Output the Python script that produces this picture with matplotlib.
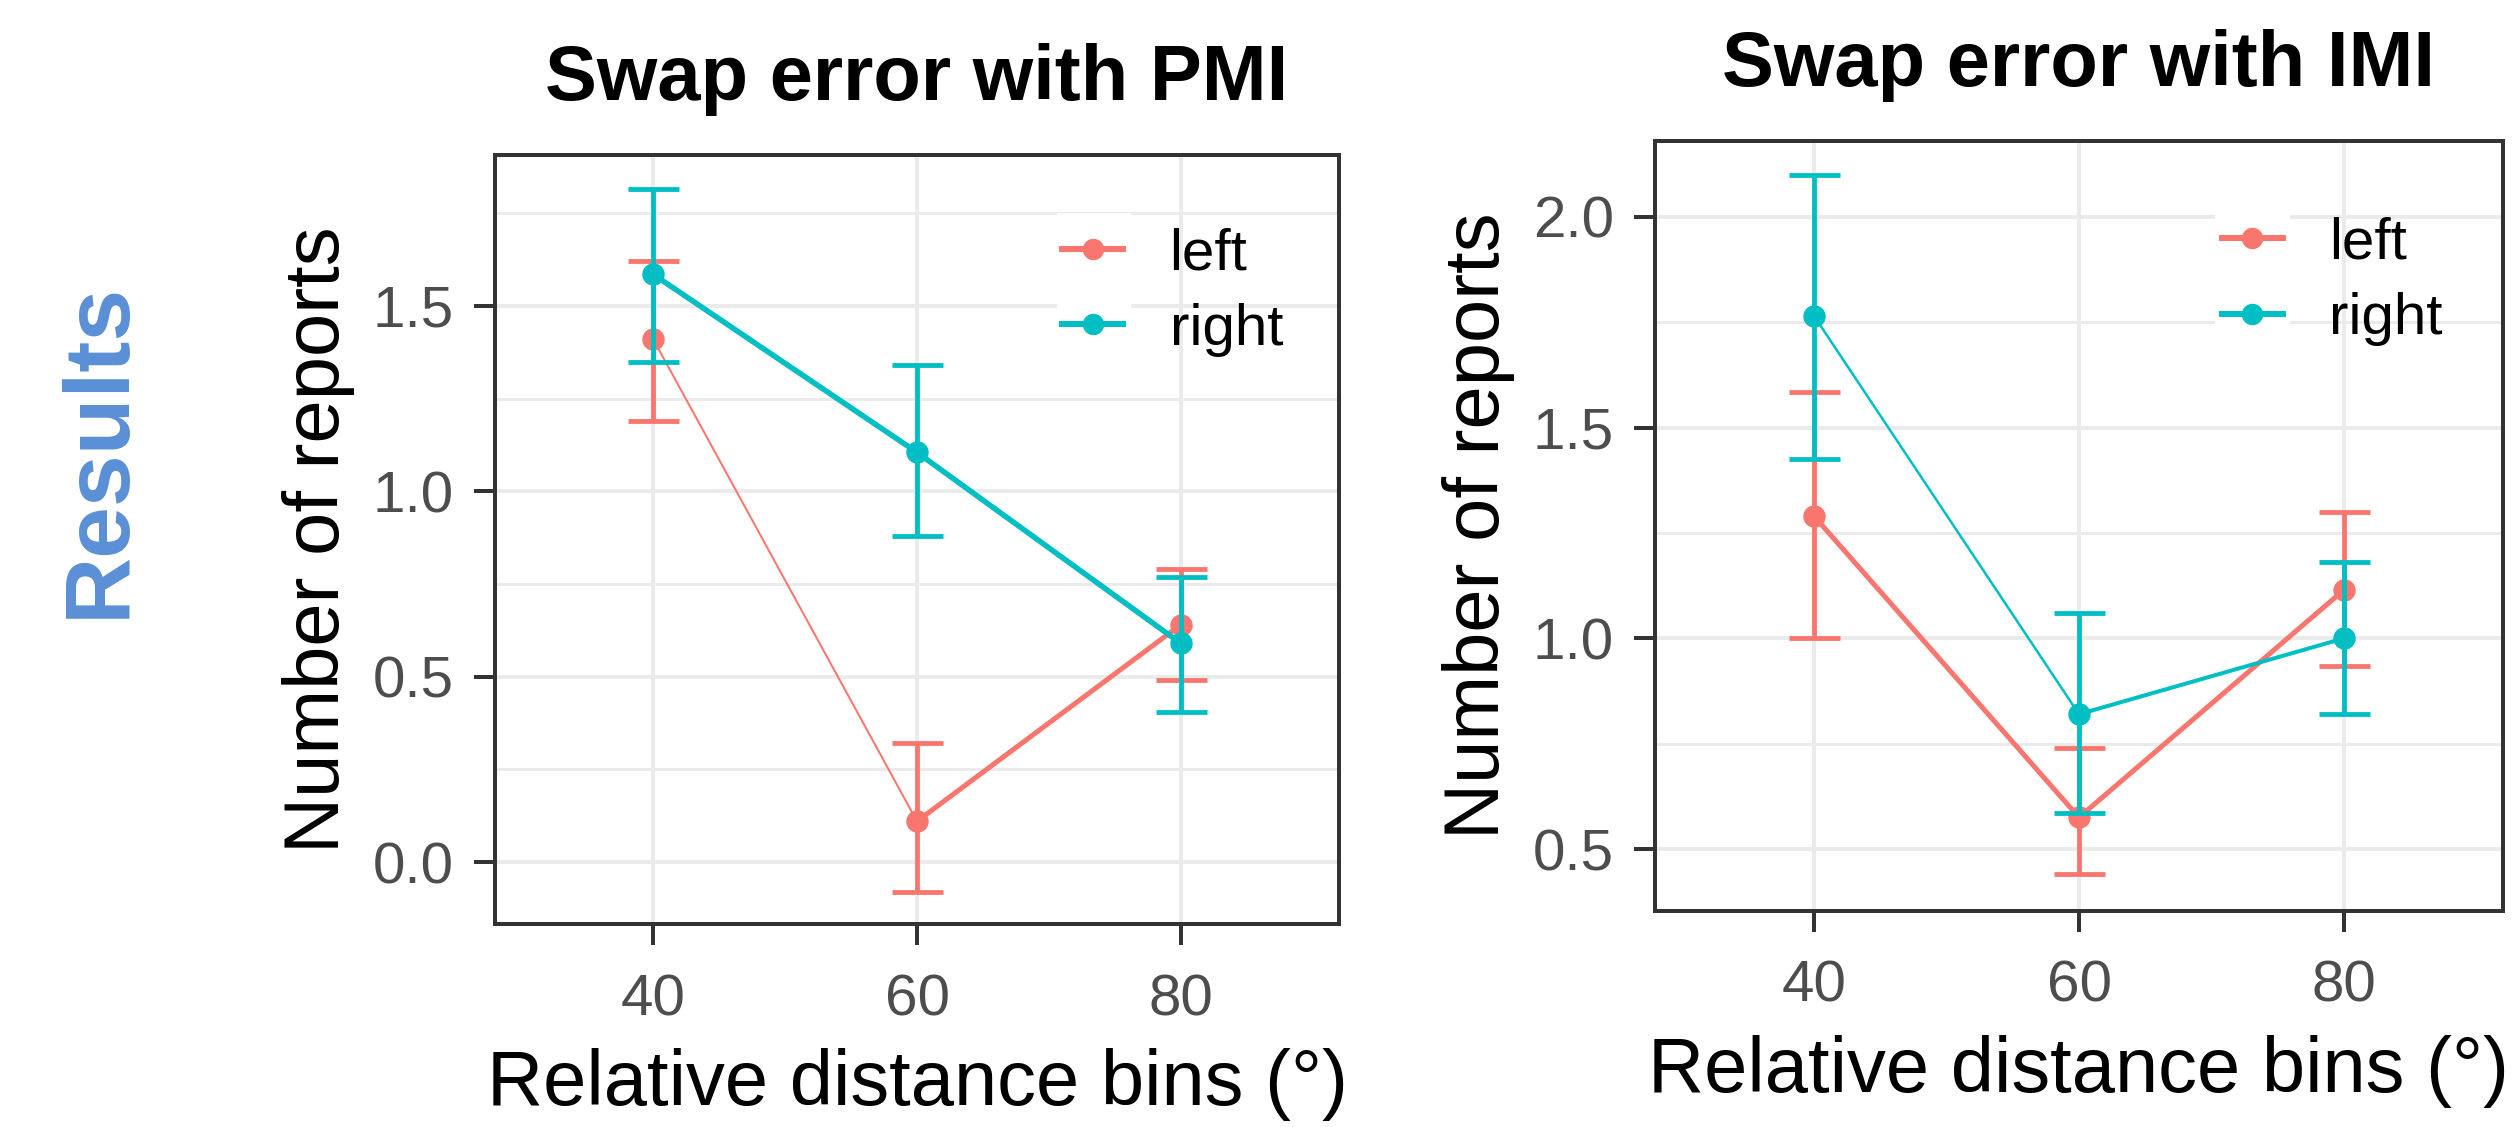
import matplotlib
matplotlib.use("Agg")
import matplotlib.pyplot as plt
from matplotlib.lines import Line2D
from matplotlib.patches import Rectangle

plt.rcParams['font.family'] = ['Liberation Sans', 'DejaVu Sans']

# ---------------- data ----------------
bins = ["40", "60", "80"]
groups = ["left", "right"]

pmi_left_mean = [1.41, 0.11, 0.64]
pmi_left_low = [1.19, -0.08, 0.49]
pmi_left_high = [1.62, 0.32, 0.79]
pmi_right_mean = [1.585, 1.105, 0.59]
pmi_right_low = [1.35, 0.88, 0.405]
pmi_right_high = [1.815, 1.34, 0.77]

imi_left_mean = [1.29, 0.575, 1.115]
imi_left_low = [1.00, 0.44, 0.935]
imi_left_high = [1.585, 0.74, 1.30]
imi_right_mean = [1.765, 0.82, 1.00]
imi_right_low = [1.425, 0.585, 0.82]
imi_right_high = [2.10, 1.06, 1.18]

titles = ["Swap error with PMI", "Swap error with IMI"]
xlabel = "Relative distance bins (°)"
ylabel = "Number of reports"
side_label = "Results"

# ---------------- style ----------------
W, H, DPI = 2517, 1127, 100
PX = 72.0 / DPI


def px(v):
    return v * PX


colors = {"left": "#F8766D", "right": "#00BFC4"}
GRID = "#EBEBEB"
DARK = "#333333"
TICKLAB = "#4D4D4D"

fig = plt.figure(figsize=(W / DPI, H / DPI), dpi=DPI)
fig.patch.set_facecolor("white")

ax1 = fig.add_axes([495 / W, 1 - 924 / H, 844 / W, 769 / H])
ax2 = fig.add_axes([1655 / W, 1 - 911 / H, 848 / W, 770 / H])

panels = [
    dict(ax=ax1, title=titles[0],
         series={"left": (pmi_left_mean, pmi_left_low, pmi_left_high),
                 "right": (pmi_right_mean, pmi_right_low, pmi_right_high)},
         seg_w={"left": [2.0, 5.0], "right": [5.5, 5.5]},
         ylim=(-0.167, 1.907), major=[0.0, 0.5, 1.0, 1.5],
         minor=[0.25, 0.75, 1.25, 1.75],
         leg_anchor=(0.672, 0.906), keybox=(0.666, 0.727, 0.087, 0.198)),
    dict(ax=ax2, title=titles[1],
         series={"left": (imi_left_mean, imi_left_low, imi_left_high),
                 "right": (imi_right_mean, imi_right_low, imi_right_high)},
         seg_w={"left": [5.0, 5.0], "right": [2.5, 4.0]},
         ylim=(0.353, 2.18), major=[0.5, 1.0, 1.5, 2.0],
         minor=[0.75, 1.25, 1.75],
         leg_anchor=(0.6686, 0.902), keybox=(0.6604, 0.731, 0.0884, 0.194)),
]

xpos = list(range(len(bins)))

for p in panels:
    ax = p["ax"]
    ax.set_axisbelow(True)
    # lines
    for g in groups:
        mean, low, high = p["series"][g]
        c = colors[g]
        for i in range(len(xpos) - 1):
            ax.plot(xpos[i:i + 2], mean[i:i + 2], color=c,
                    lw=px(p["seg_w"][g][i]), solid_capstyle="round", zorder=2)
    for g in groups:
        mean, low, high = p["series"][g]
        c = colors[g]
        ax.plot(xpos, mean, "o", color=c, ms=px(21), mec=c, zorder=3)
    for g in groups:
        mean, low, high = p["series"][g]
        c = colors[g]
        yerr = [[m - l for m, l in zip(mean, low)], [h - m for m, h in zip(mean, high)]]
        ax.errorbar(xpos, mean, yerr=yerr, fmt="none", ecolor=c,
                    elinewidth=px(4.8), capsize=px(25.5), capthick=px(4.8), zorder=4)

    ax.set_xlim(-0.6, len(bins) - 0.4)
    ax.set_ylim(*p["ylim"])
    ax.set_xticks(xpos)
    ax.set_xticklabels(bins)
    ax.set_yticks(p["major"])
    ax.set_yticklabels([f"{v:.1f}" for v in p["major"]])
    ax.set_yticks(p["minor"], minor=True)

    ax.grid(which="major", color=GRID, lw=px(4))
    ax.grid(which="minor", axis="y", color=GRID, lw=px(3))
    ax.tick_params(which="major", length=px(21), width=px(4), color=DARK,
                   labelsize=42, labelcolor=TICKLAB)
    ax.tick_params(axis="y", which="major", pad=px(20))
    ax.tick_params(axis="x", which="major", pad=px(28))
    ax.tick_params(which="minor", length=0)
    for s in ax.spines.values():
        s.set_color(DARK)
        s.set_linewidth(px(4))

    ax.set_xlabel(xlabel, fontsize=56, labelpad=px(21))
    ax.set_ylabel(ylabel, fontsize=56, labelpad=px(18))
    ax.set_title(p["title"], fontsize=56, fontweight="bold", pad=px(55))

    kx, ky, kw, kh = p["keybox"]
    ax.add_patch(Rectangle((kx, ky), kw, kh, transform=ax.transAxes,
                           facecolor="white", edgecolor="none", zorder=0.8))
    handles = [Line2D([], [], color=colors[g], lw=px(6), marker="o",
                      ms=px(20), mec=colors[g]) for g in groups]
    ax.legend(handles, groups, loc="upper left", bbox_to_anchor=p["leg_anchor"],
              frameon=False, borderpad=0, borderaxespad=0, handlelength=1.04,
              handletextpad=0.8, labelspacing=0.37, fontsize=42)

fig.text(100 / W, 1 - 450 / H, side_label, rotation=90, ha="center", va="center",
         fontsize=67, fontweight="bold", color="#5A8FD6")

fig.savefig("out.png", dpi=DPI)
